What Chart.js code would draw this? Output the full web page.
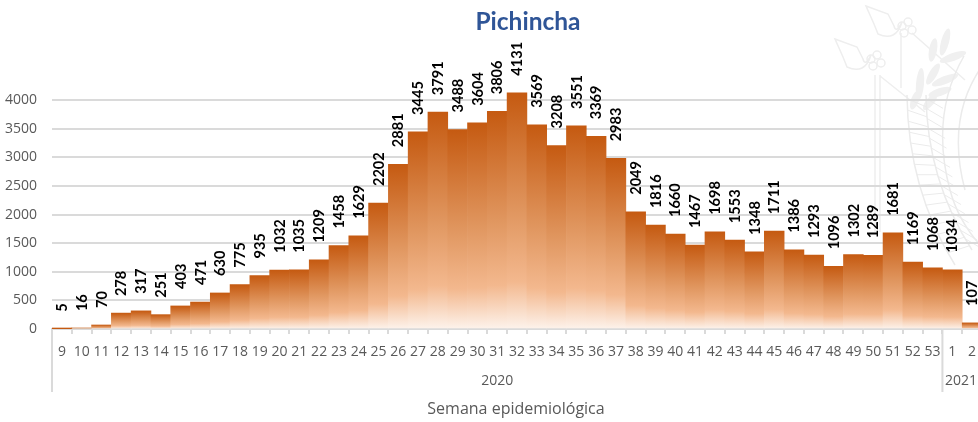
<!DOCTYPE html>
<html>
<head>
<meta charset="utf-8">
<style>
  html, body { margin: 0; padding: 0; background: #fff; overflow: hidden; }
  #wrap { width: 978px; height: 422px; position: relative; overflow: hidden; }
  canvas { display: block; }
</style>
<script src="https://cdn.jsdelivr.net/npm/chart.js@4"></script>
</head>
<body>
<div id="wrap"><canvas id="canvas" width="982" height="422"></canvas></div>
<script>
var semanas = ['9','10','11','12','13','14','15','16','17','18','19','20','21','22','23','24','25','26','27','28','29','30','31','32','33','34','35','36','37','38','39','40','41','42','43','44','45','46','47','48','49','50','51','52','53','1','2'];
var casos = [5,16,70,278,317,251,403,471,630,775,935,1032,1035,1209,1458,1629,2202,2881,3445,3791,3488,3604,3806,4131,3569,3208,3551,3369,2983,2049,1816,1660,1467,1698,1553,1348,1711,1386,1293,1096,1302,1289,1681,1169,1068,1034,107];
var anios = ['2020','2021'];
var semanasPorAnio = [45, 2];
var yTicks = [0,500,1000,1500,2000,2500,3000,3500,4000];

var gris = '#dadada';
var grisTexto = '#595959';

// each bar gets its own gradient, dark at the top and fading out at the base
function barGradient(context) {
  var chart = context.chart;
  if (!chart.chartArea || context.raw === undefined) return '#c55a11';
  var y = chart.scales.y;
  var g = chart.ctx.createLinearGradient(0, y.getPixelForValue(context.raw), 0, y.getPixelForValue(0));
  g.addColorStop(0, '#c55a11');
  g.addColorStop(0.5, '#e0965f');
  g.addColorStop(0.8, '#f3b88e');
  g.addColorStop(1, '#fdf3ec');
  return g;
}

function curva(a, b, c, t) {
  return [
    (1-t)*(1-t)*a[0] + 2*t*(1-t)*b[0] + t*t*c[0],
    (1-t)*(1-t)*a[1] + 2*t*(1-t)*b[1] + t*t*c[1]
  ];
}

// faint coat of arms behind the chart, top right
var watermark = {
  id: 'watermark',
  beforeDraw: function(chart) {
    var c = chart.ctx;
    c.save();
    c.strokeStyle = '#eeeeee';
    c.lineWidth = 1.5;
    // flag poles
    c.beginPath();
    c.moveTo(875, 75); c.lineTo(875, 232);
    c.moveTo(880, 75); c.lineTo(880, 232);
    c.moveTo(901, 33); c.lineTo(901, 88);
    c.moveTo(880, 76); c.lineTo(925, 112);
    c.moveTo(912, 33); c.lineTo(965, 80);
    c.stroke();
    // spear heads and flowers
    [[866, 6], [835, 39]].forEach(function(p) {
      var x = p[0], y = p[1];
      c.beginPath();
      c.moveTo(x, y);
      c.lineTo(x + 22, y + 8);
      c.lineTo(x + 28, y + 20);
      c.quadraticCurveTo(x + 30, y + 28, x + 36, y + 16);
      c.quadraticCurveTo(x + 30, y + 36, x + 12, y + 28);
      c.lineTo(x + 8, y + 18);
      c.closePath();
      c.stroke();
      [[36,20],[42,16],[38,27],[46,24]].forEach(function(f) {
        c.beginPath();
        c.arc(x + f[0], y + f[1], 4, 0, Math.PI * 2);
        c.stroke();
      });
    });
    // laurel leaves
    c.fillStyle = '#f0f0f0';
    [[933,50,-80,12],[945,42,-75,14],[953,57,-20,14],[920,84,-85,16],[933,74,-60,12],[945,80,-22,14],[940,92,-18,12],[915,100,-70,10],[930,102,-50,10]].forEach(function(l) {
      c.save();
      c.translate(l[0], l[1]);
      c.rotate(l[2] * Math.PI / 180);
      c.beginPath();
      c.ellipse(0, 0, l[3], 4, 0, 0, Math.PI * 2);
      c.fill();
      c.restore();
    });
    // wreath bands with their hatching
    var a1 = [907,95], b1 = [908,190], c1 = [955,265];
    var a2 = [926,95], b2 = [927,180], c2 = [972,250];
    c.strokeStyle = '#ebebeb';
    c.lineWidth = 1.5;
    c.beginPath();
    c.moveTo(a1[0], a1[1]); c.quadraticCurveTo(b1[0], b1[1], c1[0], c1[1]);
    c.moveTo(a2[0], a2[1]); c.quadraticCurveTo(b2[0], b2[1], c2[0], c2[1]);
    c.moveTo(964, 56); c.quadraticCurveTo(930, 115, 950, 190); c.quadraticCurveTo(958, 220, 980, 245);
    c.moveTo(985, 62); c.quadraticCurveTo(945, 115, 965, 190);
    c.stroke();
    c.lineWidth = 1;
    c.beginPath();
    for (var t = 0.02; t < 0.98; t += 0.06) {
      var p1 = curva(a1, b1, c1, t);
      var p2 = curva(a2, b2, c2, t + 0.05);
      var p3 = curva(a2, b2, c2, t);
      c.moveTo(p1[0], p1[1]); c.lineTo(p2[0], p2[1]);
      c.moveTo(p3[0], p3[1]); c.lineTo(p3[0] + 17, p3[1] + 10);
    }
    c.stroke();
    c.restore();
  }
};

// title sits over the middle of the whole picture, not the canvas
var titulo = {
  id: 'titulo',
  afterDraw: function(chart) {
    var c = chart.ctx;
    c.save();
    c.font = 'bold 24.5px Lato';
    c.fillStyle = '#2f5597';
    c.textAlign = 'center';
    c.textBaseline = 'middle';
    c.fillText('Pichincha', 528, 22);
    c.restore();
  }
};

// rotated value above each bar, squeezed a bit along the text since the font runs wide
var etiquetas = {
  id: 'etiquetas',
  afterDatasetsDraw: function(chart) {
    var c = chart.ctx;
    var meta = chart.getDatasetMeta(0);
    c.save();
    c.font = 'bold 16px Lato';
    c.fillStyle = '#000';
    c.textAlign = 'left';
    c.textBaseline = 'middle';
    meta.data.forEach(function(bar, i) {
      c.save();
      c.translate(bar.x, bar.y - 17);
      c.rotate(-Math.PI / 2);
      c.scale(0.91, 1);
      c.fillText(String(casos[i]), 0, 0);
      c.restore();
    });
    c.restore();
  }
};

// second level of the category axis: the years and their separators
var niveles = {
  id: 'niveles',
  afterDraw: function(chart) {
    var c = chart.ctx;
    var x = chart.scales.x;
    var y0 = chart.scales.y.getPixelForValue(0);
    var paso = x.getPixelForValue(1) - x.getPixelForValue(0);
    var inicio = 0;
    c.save();
    c.strokeStyle = gris;
    c.lineWidth = 2;
    c.fillStyle = grisTexto;
    c.font = '14px "Open Sans"';
    c.textAlign = 'center';
    c.textBaseline = 'middle';
    c.beginPath();
    c.moveTo(x.left, y0); c.lineTo(x.left, 392);
    anios.forEach(function(a, k) {
      var fin = inicio + semanasPorAnio[k];
      var izq = x.getPixelForValue(inicio) - paso / 2;
      var der = x.getPixelForValue(fin - 1) + paso / 2;
      if (k > 0) { c.moveTo(izq, y0); c.lineTo(izq, 392); }
      c.fillText(a, k > 0 ? 961 : (izq + der) / 2, 381);
      inicio = fin;
    });
    c.stroke();
    c.fillStyle = grisTexto;
    c.font = '16px "Open Sans"';
    c.fillText('Semana epidemiológica', 516, 409);
    c.restore();
  }
};

var ctx = document.getElementById('canvas').getContext('2d');
window.myBar = new Chart(ctx, {
  type: 'bar',
  data: {
    labels: semanas,
    datasets: [{
      label: 'Pichincha',
      data: casos,
      backgroundColor: barGradient,
      borderWidth: 0,
      barPercentage: 1,
      categoryPercentage: 1
    }]
  },
  options: {
    responsive: false,
    animation: false,
    layout: { padding: { top: 43, right: 0, bottom: 0, left: 0 } },
    plugins: {
      legend: { display: false },
      tooltip: { enabled: false }
    },
    scales: {
      x: {
        grid: { color: gris, lineWidth: 2, drawOnChartArea: false, tickLength: 5 },
        border: { color: gris, width: 2 },
        ticks: { color: grisTexto, font: { family: 'Open Sans', size: 14 }, maxRotation: 0, autoSkip: false, padding: 10 },
        afterFit: function(scale) {
          scale.height = 93;
          scale.paddingLeft = 0;
          scale.paddingRight = 0;
        }
      },
      y: {
        min: 0,
        max: 5000,
        grid: { color: gris, lineWidth: 2, drawTicks: false },
        border: { display: false },
        ticks: {
          color: grisTexto,
          font: { family: 'Open Sans', size: 14 },
          stepSize: 500,
          padding: 15,
          callback: function(v) { return String(v); }
        },
        afterBuildTicks: function(scale) {
          scale.ticks = yTicks.map(function(v) { return { value: v }; });
        },
        afterFit: function(scale) {
          scale.width = 52;
          scale.paddingTop = 0;
          scale.paddingBottom = 0;
        }
      }
    }
  },
  plugins: [watermark, etiquetas, niveles, titulo]
});
</script>
</body>
</html>
